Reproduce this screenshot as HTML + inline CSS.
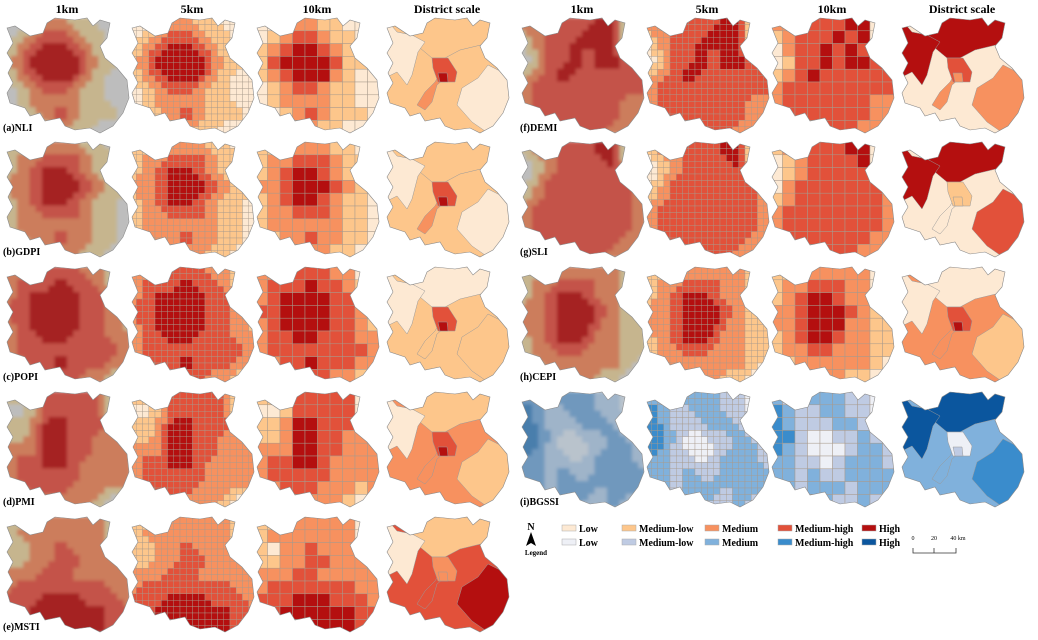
<!DOCTYPE html>
<html><head><meta charset="utf-8">
<style>
body{margin:0;background:#fff;}
svg{display:block;font-family:"Liberation Serif",serif;}
.t{font-weight:bold;font-size:12px;text-anchor:middle;}
.l{font-weight:bold;font-size:10px;}
.lg{font-weight:bold;font-size:10px;}
</style></head><body>
<svg id="fig" width="1038" height="640" viewBox="0 0 1038 640" xmlns="http://www.w3.org/2000/svg">
<defs>
<clipPath id="reg"><polygon id="regpoly" points="2,10 10,8 25,18 38,15 42,5 50,0 70,2 82,0 88,8 95,2 105,5 102,20 95,28 100,40 112,50 122,62 124,80 118,95 108,108 95,115 85,110 70,112 60,108 55,100 40,103 35,95 25,98 20,90 5,85 2,75 8,65 3,55 8,45 2,35 8,25"/></clipPath>
<filter id="blur"><feGaussianBlur stdDeviation="1.6"/></filter>
</defs>
<g id="titles"></g>
<g id="panels"></g>
<g id="legend"></g>
</svg>
<script>
// ---- data: level grids (0=Low .. 4=High), 10 cols x 9 rows at 10km ----
const panelNames = ['(a)NLI','(b)GDPI','(c)POPI','(d)PMI','(e)MSTI','(f)DEMI','(g)SLI','(h)CEPI','(i)BGSSI'];
const gridNLI  = ["0012211000","0123321100","1234432100","1344443110","1234442100","0123321100","0122221100","0012321110","0001211000"];
const gridGDPI = ["1122221100","1223332110","1234432110","2234443211","1234432110","1223332110","1222222110","1122322110","0112221100"];
const gridPOPI = ["2233332200","2333433210","2344443321","3344443322","2344443321","2334433322","2333333332","2233433322","1223332210"];
const gridPMI  = ["1123333300","0013333300","1124433322","1124433222","2224433222","2334432222","2333332222","1233322212","1122222100"];
const gridMSTI = ["1122222200","1222222200","1022322222","1122332222","2223322222","2333333322","3334443332","3344444433","2334444432"];
const gridDEMI = ["2233334400","1233343400","0233434300","0133434432","1234333333","2333333333","2333333322","2333333322","2223333222"];
const gridSLI  = ["1223334400","0123333400","0123333321","0233333332","1233333332","2333333332","2333333332","2333333322","2223333222"];
const gridCEPI = ["1122222200","1223332200","1234432210","2234443211","2234442211","1234432211","1223322211","1122222210","0112221100"];
const gridBGSSI= ["2112221100","3211221100","3211122110","3310011210","3210001221","2211012221","2212112222","2212221222","1112211211"];
const grids = [gridNLI,gridGDPI,gridPOPI,gridPMI,gridMSTI,gridDEMI,gridSLI,gridCEPI,gridBGSSI];
// district levels: [middle, north, west, southeast, southwest, centre, core]
const distNLI  = [1,1,0,0,2,3,4];
const distGDPI = [1,1,0,0,2,3,4];
const distPOPI = [1,0,0,1,1,3,4];
const distPMI  = [2,1,0,1,2,3,4];
const distMSTI = [3,1,0,4,3,2,2];
const distDEMI = [0,4,4,2,2,3,2];
const distSLI  = [0,4,4,3,0,1,1];
const distCEPI = [2,0,0,1,2,3,4];
const distBGSSI= [2,4,4,3,2,0,1];
const dists = [distNLI,distGDPI,distPOPI,distPMI,distMSTI,distDEMI,distSLI,distCEPI,distBGSSI];
const colTitles = ['1km','5km','10km','District scale','1km','5km','10km','District scale'];
const legendRed = ['Low','Medium-low','Medium','Medium-high','High'];
const legendBlue = ['Low','Medium-low','Medium','Medium-high','High'];

const RED=['#fde9d3','#fdc68b','#f7915f','#e2513a','#b40f0f'];
const RED1=['#bdbdbd','#c6b58e','#cc7d5c','#c4534a','#a52424'];
const BLUE=['#eef0f6','#bfcbe3','#80b1dc','#3a8ccc','#0b569e'];
const BLUE1=['#b9c3cc','#9fb4c9','#6f98bd','#4a7eac','#2b5f8f'];
const distPolys=[
 "0,0 130,0 130,120 0,120",
 "0,0 130,0 130,22 100,26 75,32 60,40 47,40 35,30 25,15",
 "0,0 12,14 27,17 40,24 33,34 27,57 22,67 12,54 0,60",
 "103,47 117,54 130,67 130,120 110,120 87,104 72,87 77,70 93,60",
 "53,59 50,64 40,74 32,87 40,92 47,84 52,67 58,62",
 "47,40 63,40 72,54 70,64 53,64 48,50",
 "53,55 62,55 63,64 55,64"];
const NS='http://www.w3.org/2000/svg';
function mk(tag,attrs,parent){const e=document.createElementNS(NS,tag);for(const k in attrs)e.setAttribute(k,attrs[k]);parent.appendChild(e);return e;}
const colX=[5,130,255,385,520,645,770,900];
const rowY=[18,142,267,392,517];
const T=document.getElementById('titles');
colTitles.forEach((t,i)=>{const e=mk('text',{x:colX[i]+62,y:13,class:'t'},T);e.textContent=t;

});
const P=document.getElementById('panels');
const cw=12.5,ch=12.8;
function lv(g,r,c){r=Math.max(0,Math.min(8,r));c=Math.max(0,Math.min(9,c));return +g[r][c];}
for(let p=0;p<9;p++){
 const side=p<5?0:1, row=p<5?p:p-5;
 const blue=p===8, pal=blue?BLUE:RED, pal1=blue?BLUE1:RED1;
 const g=grids[p];
 for(let k=0;k<4;k++){
  const gx=colX[side*4+k], gy=rowY[row];
  const G=mk('g',{transform:`translate(${gx},${gy})`},P);
  
  
  const C=mk('g',{'clip-path':'url(#reg)'},G);
  if(k===0){
   const B=mk('g',{filter:'url(#blur)'},C);
   for(let r=0;r<18;r++)for(let c=0;c<20;c++){
    const R=r>>1,Cc=c>>1,dr=(r%2)?1:-1,dc=(c%2)?1:-1;
    const v=Math.round((2*lv(g,R,Cc)+lv(g,R+dr,Cc)+lv(g,R,Cc+dc))/4);
    mk('rect',{x:c*cw/2-0.5,y:r*ch/2-0.5,width:cw/2+1,height:ch/2+1,fill:pal1[v]},B);}
  }else if(k===1){
   for(let r=0;r<18;r++)for(let c=0;c<20;c++){
    const R=r>>1,Cc=c>>1,dr=(r%2)?1:-1,dc=(c%2)?1:-1;
    const v=Math.round((2*lv(g,R,Cc)+lv(g,R+dr,Cc)+lv(g,R,Cc+dc))/4);
    mk('rect',{x:c*cw/2,y:r*ch/2,width:cw/2,height:ch/2,fill:pal[v],stroke:'#a89a8c','stroke-width':0.4},C);}
  }else if(k===2){
   for(let r=0;r<9;r++)for(let c=0;c<10;c++)mk('rect',{x:c*cw,y:r*ch,width:cw,height:ch,fill:pal[lv(g,r,c)],stroke:'#a89a8c','stroke-width':0.5},C);
  }else{
   dists[p].forEach((v,i)=>mk('polygon',{points:distPolys[i],fill:pal[v],stroke:'#999','stroke-width':0.5},C));
  }
  mk('polygon',{points:document.getElementById('regpoly').getAttribute('points'),fill:'none',stroke:'#8a8a8a','stroke-width':0.6},G);
 }
 const lx=side?520:3, ly=rowY[row]+113;
 const t=mk('text',{x:lx,y:ly,class:'l'},P);t.textContent=panelNames[p];
 
 
}
// legend
const L=document.getElementById('legend');
mk('text',{x:531,y:530,class:'lg','font-size':'8','text-anchor':'middle'},L).textContent='N';
mk('polygon',{points:'531,532 526,546 531,543 536,546',fill:'#000'},L);
mk('text',{x:536,y:555,'font-size':'7','font-weight':'bold','text-anchor':'middle'},L).textContent='Legend';
const lxs=[562,622,705,778,862];
[[legendRed,RED,531],[legendBlue,BLUE,545]].forEach(([labs,pal,y])=>{
 labs.forEach((s,i)=>{mk('rect',{x:lxs[i],y:y-6,width:14,height:6,fill:pal[i],stroke:'#aaa','stroke-width':0.5},L);
 const e=mk('text',{x:lxs[i]+17,y:y+1,class:'lg'},L);e.textContent=s;
 
 });
});
mk('path',{d:'M913,548 V553 H956 V548 M934,548 V553',fill:'none',stroke:'#333','stroke-width':0.8},L);
[['0',913],['20',934],['40 km',958]].forEach(([s,x])=>{mk('text',{x:x,y:540,'font-size':'6','text-anchor':'middle'},L).textContent=s;});
</script>
</body></html>
